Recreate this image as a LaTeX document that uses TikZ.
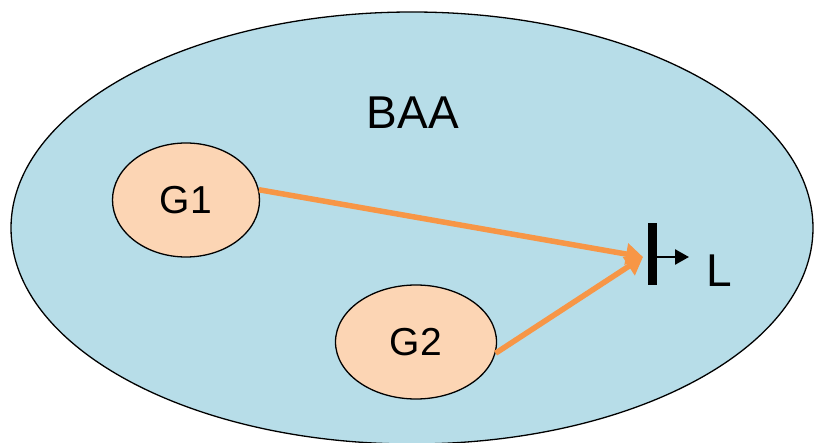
\documentclass[tikz,border=0pt]{standalone}
\usepackage{fontspec}
\setmainfont{Liberation Sans}
\usepackage{tikz}
\usetikzlibrary{shapes.geometric, positioning, arrows.meta}
\definecolor{baablue}{HTML}{B7DDE8}
\definecolor{gpeach}{HTML}{FCD5B4}
\definecolor{floworange}{HTML}{F79646}

\begin{document}
\begin{tikzpicture}[x=1pt,y=-1pt,
  setstyle/.style={ellipse,draw,line width=1.3pt,inner sep=0},
  bigset/.style={setstyle,fill=baablue,minimum width=802pt,minimum height=432pt},
  smallset/.style={setstyle,fill=gpeach,minimum height=114pt,font=\fontsize{39}{39}\selectfont},
  flow/.style={floworange,line width=5.5pt,-{Triangle[length=17pt,width=21pt]}}]
  \useasboundingbox (0,0) rectangle (815,443);

  \node [bigset] (baa) at (412,228) {};
  \node [anchor=base,font=\fontsize{46}{46}\selectfont] (baalabel) at (413,129) {BAA};

  \foreach \name/\x/\y/\w in {G1/186/200/147, G2/416/342/161}
    \node [smallset,minimum width=\w pt] (\name) at (\x,\y) {\name};

  \coordinate (tip) at (643,257);
  \draw [flow] (G1.8) -- (tip);
  \draw [flow] (G2.-8) -- (tip);

  \node [fill=black,minimum width=9pt,minimum height=62pt,inner sep=0] (bar) at (652.5,254) {};
  \coordinate (Ltip) at (689,257);
  \draw [line width=2.5pt,-{Triangle[length=14pt,width=15pt]}] (bar.east |- Ltip) -- (Ltip);
  \node [anchor=base west,inner sep=0,font=\fontsize{46}{46}\selectfont] (L) at (706,287) {L};
\end{tikzpicture}
\end{document}
